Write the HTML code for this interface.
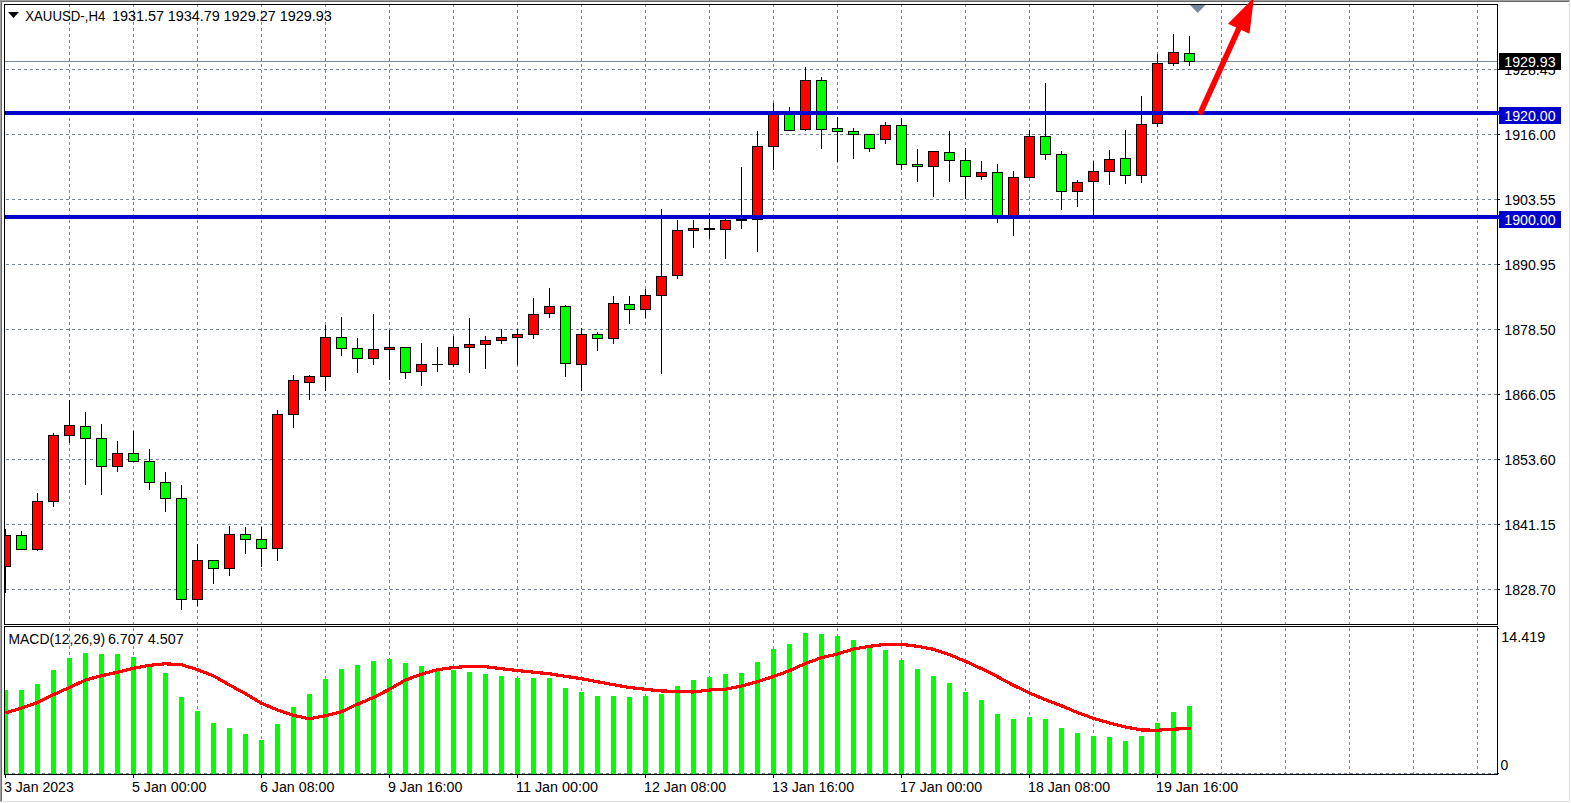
<!DOCTYPE html>
<html><head><meta charset="utf-8"><title>XAUUSD H4</title>
<style>html,body{margin:0;padding:0;background:#fff;overflow:hidden}svg{display:block}text{font-family:"Liberation Sans",sans-serif;font-size:14px;fill:#000}</style></head><body>
<svg width="1571" height="803" viewBox="0 0 1571 803">
<rect x="0" y="0" width="1571" height="803" fill="#fff"/>
<g shape-rendering="crispEdges">
<rect x="0" y="0" width="1570" height="1" fill="#a0a0a0"/>
<rect x="0" y="0" width="1" height="802" fill="#a0a0a0"/>
<rect x="1" y="1" width="1568" height="1" fill="#696969"/>
<rect x="1" y="1" width="1" height="800" fill="#696969"/>
<rect x="1569" y="1" width="1" height="801" fill="#e3e3e3"/>
<rect x="1" y="801" width="1569" height="1" fill="#e3e3e3"/>
<clipPath id="cm"><rect x="5" y="5" width="1492" height="619"/></clipPath>
<clipPath id="cd"><rect x="5" y="627" width="1492" height="147"/></clipPath>
<g stroke="#778899" stroke-width="1" stroke-dasharray="3 3" fill="none">
<g clip-path="url(#cm)">
<line x1="69.5" y1="4" x2="69.5" y2="630"/>
<line x1="133.5" y1="4" x2="133.5" y2="630"/>
<line x1="197.5" y1="4" x2="197.5" y2="630"/>
<line x1="261.5" y1="4" x2="261.5" y2="630"/>
<line x1="325.5" y1="4" x2="325.5" y2="630"/>
<line x1="389.5" y1="4" x2="389.5" y2="630"/>
<line x1="453.5" y1="4" x2="453.5" y2="630"/>
<line x1="517.5" y1="4" x2="517.5" y2="630"/>
<line x1="581.5" y1="4" x2="581.5" y2="630"/>
<line x1="645.5" y1="4" x2="645.5" y2="630"/>
<line x1="709.5" y1="4" x2="709.5" y2="630"/>
<line x1="773.5" y1="4" x2="773.5" y2="630"/>
<line x1="837.5" y1="4" x2="837.5" y2="630"/>
<line x1="901.5" y1="4" x2="901.5" y2="630"/>
<line x1="965.5" y1="4" x2="965.5" y2="630"/>
<line x1="1029.5" y1="4" x2="1029.5" y2="630"/>
<line x1="1093.5" y1="4" x2="1093.5" y2="630"/>
<line x1="1157.5" y1="4" x2="1157.5" y2="630"/>
<line x1="1221.5" y1="4" x2="1221.5" y2="630"/>
<line x1="1285.5" y1="4" x2="1285.5" y2="630"/>
<line x1="1349.5" y1="4" x2="1349.5" y2="630"/>
<line x1="1413.5" y1="4" x2="1413.5" y2="630"/>
<line x1="1477.5" y1="4" x2="1477.5" y2="630"/>
<line x1="0" y1="69.5" x2="1500" y2="69.5"/>
<line x1="0" y1="134.5" x2="1500" y2="134.5"/>
<line x1="0" y1="199.5" x2="1500" y2="199.5"/>
<line x1="0" y1="264.5" x2="1500" y2="264.5"/>
<line x1="0" y1="329.5" x2="1500" y2="329.5"/>
<line x1="0" y1="394.5" x2="1500" y2="394.5"/>
<line x1="0" y1="459.5" x2="1500" y2="459.5"/>
<line x1="0" y1="524.5" x2="1500" y2="524.5"/>
<line x1="0" y1="589.5" x2="1500" y2="589.5"/>
</g><g clip-path="url(#cd)">
<line x1="69.5" y1="622" x2="69.5" y2="780"/>
<line x1="133.5" y1="622" x2="133.5" y2="780"/>
<line x1="197.5" y1="622" x2="197.5" y2="780"/>
<line x1="261.5" y1="622" x2="261.5" y2="780"/>
<line x1="325.5" y1="622" x2="325.5" y2="780"/>
<line x1="389.5" y1="622" x2="389.5" y2="780"/>
<line x1="453.5" y1="622" x2="453.5" y2="780"/>
<line x1="517.5" y1="622" x2="517.5" y2="780"/>
<line x1="581.5" y1="622" x2="581.5" y2="780"/>
<line x1="645.5" y1="622" x2="645.5" y2="780"/>
<line x1="709.5" y1="622" x2="709.5" y2="780"/>
<line x1="773.5" y1="622" x2="773.5" y2="780"/>
<line x1="837.5" y1="622" x2="837.5" y2="780"/>
<line x1="901.5" y1="622" x2="901.5" y2="780"/>
<line x1="965.5" y1="622" x2="965.5" y2="780"/>
<line x1="1029.5" y1="622" x2="1029.5" y2="780"/>
<line x1="1093.5" y1="622" x2="1093.5" y2="780"/>
<line x1="1157.5" y1="622" x2="1157.5" y2="780"/>
<line x1="1221.5" y1="622" x2="1221.5" y2="780"/>
<line x1="1285.5" y1="622" x2="1285.5" y2="780"/>
<line x1="1349.5" y1="622" x2="1349.5" y2="780"/>
<line x1="1413.5" y1="622" x2="1413.5" y2="780"/>
<line x1="1477.5" y1="622" x2="1477.5" y2="780"/>
<line x1="0" y1="773.5" x2="1500" y2="773.5"/>
</g></g>
<rect x="5" y="61" width="1492" height="1" fill="#778899"/>
<g clip-path="url(#cm)">
<rect x="5" y="529" width="1" height="64" fill="#000"/>
<rect x="0" y="535" width="11" height="32" fill="#000"/>
<rect x="1" y="536" width="9" height="30" fill="#ff0000"/>
<rect x="21" y="531" width="1" height="19" fill="#000"/>
<rect x="16" y="535" width="11" height="15" fill="#000"/>
<rect x="17" y="536" width="9" height="13" fill="#00ff00"/>
<rect x="37" y="493" width="1" height="58" fill="#000"/>
<rect x="32" y="501" width="11" height="49" fill="#000"/>
<rect x="33" y="502" width="9" height="47" fill="#ff0000"/>
<rect x="53" y="433" width="1" height="74" fill="#000"/>
<rect x="48" y="435" width="11" height="67" fill="#000"/>
<rect x="49" y="436" width="9" height="65" fill="#ff0000"/>
<rect x="69" y="400" width="1" height="43" fill="#000"/>
<rect x="64" y="425" width="11" height="11" fill="#000"/>
<rect x="65" y="426" width="9" height="9" fill="#ff0000"/>
<rect x="85" y="412" width="1" height="73" fill="#000"/>
<rect x="80" y="426" width="11" height="13" fill="#000"/>
<rect x="81" y="427" width="9" height="11" fill="#00ff00"/>
<rect x="101" y="424" width="1" height="71" fill="#000"/>
<rect x="96" y="438" width="11" height="29" fill="#000"/>
<rect x="97" y="439" width="9" height="27" fill="#00ff00"/>
<rect x="117" y="441" width="1" height="31" fill="#000"/>
<rect x="112" y="453" width="11" height="14" fill="#000"/>
<rect x="113" y="454" width="9" height="12" fill="#ff0000"/>
<rect x="133" y="431" width="1" height="31" fill="#000"/>
<rect x="128" y="453" width="11" height="9" fill="#000"/>
<rect x="129" y="454" width="9" height="7" fill="#00ff00"/>
<rect x="149" y="449" width="1" height="41" fill="#000"/>
<rect x="144" y="461" width="11" height="22" fill="#000"/>
<rect x="145" y="462" width="9" height="20" fill="#00ff00"/>
<rect x="165" y="472" width="1" height="40" fill="#000"/>
<rect x="160" y="482" width="11" height="17" fill="#000"/>
<rect x="161" y="483" width="9" height="15" fill="#00ff00"/>
<rect x="181" y="485" width="1" height="125" fill="#000"/>
<rect x="176" y="498" width="11" height="102" fill="#000"/>
<rect x="177" y="499" width="9" height="100" fill="#00ff00"/>
<rect x="197" y="544" width="1" height="62" fill="#000"/>
<rect x="192" y="560" width="11" height="40" fill="#000"/>
<rect x="193" y="561" width="9" height="38" fill="#ff0000"/>
<rect x="213" y="560" width="1" height="24" fill="#000"/>
<rect x="208" y="560" width="11" height="9" fill="#000"/>
<rect x="209" y="561" width="9" height="7" fill="#00ff00"/>
<rect x="229" y="526" width="1" height="50" fill="#000"/>
<rect x="224" y="534" width="11" height="35" fill="#000"/>
<rect x="225" y="535" width="9" height="33" fill="#ff0000"/>
<rect x="245" y="527" width="1" height="27" fill="#000"/>
<rect x="240" y="534" width="11" height="6" fill="#000"/>
<rect x="241" y="535" width="9" height="4" fill="#00ff00"/>
<rect x="261" y="527" width="1" height="40" fill="#000"/>
<rect x="256" y="539" width="11" height="10" fill="#000"/>
<rect x="257" y="540" width="9" height="8" fill="#00ff00"/>
<rect x="277" y="410" width="1" height="151" fill="#000"/>
<rect x="272" y="414" width="11" height="135" fill="#000"/>
<rect x="273" y="415" width="9" height="133" fill="#ff0000"/>
<rect x="293" y="375" width="1" height="53" fill="#000"/>
<rect x="288" y="380" width="11" height="35" fill="#000"/>
<rect x="289" y="381" width="9" height="33" fill="#ff0000"/>
<rect x="309" y="375" width="1" height="25" fill="#000"/>
<rect x="304" y="376" width="11" height="7" fill="#000"/>
<rect x="305" y="377" width="9" height="5" fill="#ff0000"/>
<rect x="325" y="325" width="1" height="66" fill="#000"/>
<rect x="320" y="337" width="11" height="40" fill="#000"/>
<rect x="321" y="338" width="9" height="38" fill="#ff0000"/>
<rect x="341" y="317" width="1" height="39" fill="#000"/>
<rect x="336" y="337" width="11" height="12" fill="#000"/>
<rect x="337" y="338" width="9" height="10" fill="#00ff00"/>
<rect x="357" y="338" width="1" height="35" fill="#000"/>
<rect x="352" y="348" width="11" height="11" fill="#000"/>
<rect x="353" y="349" width="9" height="9" fill="#00ff00"/>
<rect x="373" y="314" width="1" height="51" fill="#000"/>
<rect x="368" y="349" width="11" height="10" fill="#000"/>
<rect x="369" y="350" width="9" height="8" fill="#ff0000"/>
<rect x="389" y="330" width="1" height="50" fill="#000"/>
<rect x="384" y="347" width="11" height="3" fill="#000"/>
<rect x="385" y="348" width="9" height="1" fill="#ff0000"/>
<rect x="405" y="347" width="1" height="32" fill="#000"/>
<rect x="400" y="347" width="11" height="26" fill="#000"/>
<rect x="401" y="348" width="9" height="24" fill="#00ff00"/>
<rect x="421" y="343" width="1" height="43" fill="#000"/>
<rect x="416" y="364" width="11" height="8" fill="#000"/>
<rect x="417" y="365" width="9" height="6" fill="#ff0000"/>
<rect x="437" y="347" width="1" height="25" fill="#000"/>
<rect x="432" y="364" width="11" height="1" fill="#000"/>
<rect x="453" y="336" width="1" height="31" fill="#000"/>
<rect x="448" y="347" width="11" height="18" fill="#000"/>
<rect x="449" y="348" width="9" height="16" fill="#ff0000"/>
<rect x="469" y="318" width="1" height="55" fill="#000"/>
<rect x="464" y="344" width="11" height="4" fill="#000"/>
<rect x="465" y="345" width="9" height="2" fill="#ff0000"/>
<rect x="485" y="336" width="1" height="33" fill="#000"/>
<rect x="480" y="340" width="11" height="5" fill="#000"/>
<rect x="481" y="341" width="9" height="3" fill="#ff0000"/>
<rect x="501" y="329" width="1" height="15" fill="#000"/>
<rect x="496" y="337" width="11" height="4" fill="#000"/>
<rect x="497" y="338" width="9" height="2" fill="#ff0000"/>
<rect x="517" y="329" width="1" height="36" fill="#000"/>
<rect x="512" y="334" width="11" height="4" fill="#000"/>
<rect x="513" y="335" width="9" height="2" fill="#ff0000"/>
<rect x="533" y="298" width="1" height="41" fill="#000"/>
<rect x="528" y="314" width="11" height="21" fill="#000"/>
<rect x="529" y="315" width="9" height="19" fill="#ff0000"/>
<rect x="549" y="288" width="1" height="30" fill="#000"/>
<rect x="544" y="306" width="11" height="8" fill="#000"/>
<rect x="545" y="307" width="9" height="6" fill="#ff0000"/>
<rect x="565" y="305" width="1" height="72" fill="#000"/>
<rect x="560" y="306" width="11" height="58" fill="#000"/>
<rect x="561" y="307" width="9" height="56" fill="#00ff00"/>
<rect x="581" y="328" width="1" height="63" fill="#000"/>
<rect x="576" y="334" width="11" height="31" fill="#000"/>
<rect x="577" y="335" width="9" height="29" fill="#ff0000"/>
<rect x="597" y="332" width="1" height="19" fill="#000"/>
<rect x="592" y="334" width="11" height="5" fill="#000"/>
<rect x="593" y="335" width="9" height="3" fill="#00ff00"/>
<rect x="613" y="296" width="1" height="48" fill="#000"/>
<rect x="608" y="303" width="11" height="36" fill="#000"/>
<rect x="609" y="304" width="9" height="34" fill="#ff0000"/>
<rect x="629" y="296" width="1" height="28" fill="#000"/>
<rect x="624" y="304" width="11" height="6" fill="#000"/>
<rect x="625" y="305" width="9" height="4" fill="#00ff00"/>
<rect x="645" y="289" width="1" height="29" fill="#000"/>
<rect x="640" y="295" width="11" height="15" fill="#000"/>
<rect x="641" y="296" width="9" height="13" fill="#ff0000"/>
<rect x="661" y="209" width="1" height="165" fill="#000"/>
<rect x="656" y="276" width="11" height="20" fill="#000"/>
<rect x="657" y="277" width="9" height="18" fill="#ff0000"/>
<rect x="677" y="220" width="1" height="59" fill="#000"/>
<rect x="672" y="230" width="11" height="46" fill="#000"/>
<rect x="673" y="231" width="9" height="44" fill="#ff0000"/>
<rect x="693" y="220" width="1" height="28" fill="#000"/>
<rect x="688" y="228" width="11" height="3" fill="#000"/>
<rect x="689" y="229" width="9" height="1" fill="#ff0000"/>
<rect x="709" y="213" width="1" height="26" fill="#000"/>
<rect x="704" y="228" width="11" height="2" fill="#000"/>
<rect x="725" y="215" width="1" height="44" fill="#000"/>
<rect x="720" y="220" width="11" height="10" fill="#000"/>
<rect x="721" y="221" width="9" height="8" fill="#ff0000"/>
<rect x="741" y="167" width="1" height="62" fill="#000"/>
<rect x="736" y="219" width="11" height="2" fill="#000"/>
<rect x="757" y="131" width="1" height="121" fill="#000"/>
<rect x="752" y="146" width="11" height="74" fill="#000"/>
<rect x="753" y="147" width="9" height="72" fill="#ff0000"/>
<rect x="773" y="103" width="1" height="67" fill="#000"/>
<rect x="768" y="112" width="11" height="35" fill="#000"/>
<rect x="769" y="113" width="9" height="33" fill="#ff0000"/>
<rect x="789" y="107" width="1" height="24" fill="#000"/>
<rect x="784" y="112" width="11" height="19" fill="#000"/>
<rect x="785" y="113" width="9" height="17" fill="#00ff00"/>
<rect x="805" y="67" width="1" height="64" fill="#000"/>
<rect x="800" y="80" width="11" height="50" fill="#000"/>
<rect x="801" y="81" width="9" height="48" fill="#ff0000"/>
<rect x="821" y="77" width="1" height="72" fill="#000"/>
<rect x="816" y="80" width="11" height="50" fill="#000"/>
<rect x="817" y="81" width="9" height="48" fill="#00ff00"/>
<rect x="837" y="117" width="1" height="45" fill="#000"/>
<rect x="832" y="128" width="11" height="4" fill="#000"/>
<rect x="833" y="129" width="9" height="2" fill="#00ff00"/>
<rect x="853" y="128" width="1" height="31" fill="#000"/>
<rect x="848" y="131" width="11" height="4" fill="#000"/>
<rect x="849" y="132" width="9" height="2" fill="#00ff00"/>
<rect x="869" y="134" width="1" height="18" fill="#000"/>
<rect x="864" y="134" width="11" height="15" fill="#000"/>
<rect x="865" y="135" width="9" height="13" fill="#00ff00"/>
<rect x="885" y="122" width="1" height="22" fill="#000"/>
<rect x="880" y="125" width="11" height="15" fill="#000"/>
<rect x="881" y="126" width="9" height="13" fill="#ff0000"/>
<rect x="901" y="118" width="1" height="52" fill="#000"/>
<rect x="896" y="125" width="11" height="40" fill="#000"/>
<rect x="897" y="126" width="9" height="38" fill="#00ff00"/>
<rect x="917" y="149" width="1" height="33" fill="#000"/>
<rect x="912" y="164" width="11" height="3" fill="#000"/>
<rect x="913" y="165" width="9" height="1" fill="#00ff00"/>
<rect x="933" y="151" width="1" height="46" fill="#000"/>
<rect x="928" y="151" width="11" height="16" fill="#000"/>
<rect x="929" y="152" width="9" height="14" fill="#ff0000"/>
<rect x="949" y="131" width="1" height="51" fill="#000"/>
<rect x="944" y="152" width="11" height="9" fill="#000"/>
<rect x="945" y="153" width="9" height="7" fill="#00ff00"/>
<rect x="965" y="148" width="1" height="51" fill="#000"/>
<rect x="960" y="160" width="11" height="17" fill="#000"/>
<rect x="961" y="161" width="9" height="15" fill="#00ff00"/>
<rect x="981" y="161" width="1" height="19" fill="#000"/>
<rect x="976" y="172" width="11" height="5" fill="#000"/>
<rect x="977" y="173" width="9" height="3" fill="#ff0000"/>
<rect x="997" y="164" width="1" height="59" fill="#000"/>
<rect x="992" y="172" width="11" height="45" fill="#000"/>
<rect x="993" y="173" width="9" height="43" fill="#00ff00"/>
<rect x="1013" y="171" width="1" height="65" fill="#000"/>
<rect x="1008" y="177" width="11" height="40" fill="#000"/>
<rect x="1009" y="178" width="9" height="38" fill="#ff0000"/>
<rect x="1029" y="130" width="1" height="48" fill="#000"/>
<rect x="1024" y="136" width="11" height="42" fill="#000"/>
<rect x="1025" y="137" width="9" height="40" fill="#ff0000"/>
<rect x="1045" y="83" width="1" height="77" fill="#000"/>
<rect x="1040" y="136" width="11" height="19" fill="#000"/>
<rect x="1041" y="137" width="9" height="17" fill="#00ff00"/>
<rect x="1061" y="151" width="1" height="59" fill="#000"/>
<rect x="1056" y="154" width="11" height="38" fill="#000"/>
<rect x="1057" y="155" width="9" height="36" fill="#00ff00"/>
<rect x="1077" y="180" width="1" height="27" fill="#000"/>
<rect x="1072" y="182" width="11" height="10" fill="#000"/>
<rect x="1073" y="183" width="9" height="8" fill="#ff0000"/>
<rect x="1093" y="161" width="1" height="54" fill="#000"/>
<rect x="1088" y="171" width="11" height="11" fill="#000"/>
<rect x="1089" y="172" width="9" height="9" fill="#ff0000"/>
<rect x="1109" y="150" width="1" height="35" fill="#000"/>
<rect x="1104" y="159" width="11" height="13" fill="#000"/>
<rect x="1105" y="160" width="9" height="11" fill="#ff0000"/>
<rect x="1125" y="130" width="1" height="54" fill="#000"/>
<rect x="1120" y="158" width="11" height="18" fill="#000"/>
<rect x="1121" y="159" width="9" height="16" fill="#00ff00"/>
<rect x="1141" y="96" width="1" height="87" fill="#000"/>
<rect x="1136" y="124" width="11" height="52" fill="#000"/>
<rect x="1137" y="125" width="9" height="50" fill="#ff0000"/>
<rect x="1157" y="54" width="1" height="73" fill="#000"/>
<rect x="1152" y="63" width="11" height="61" fill="#000"/>
<rect x="1153" y="64" width="9" height="59" fill="#ff0000"/>
<rect x="1173" y="34" width="1" height="32" fill="#000"/>
<rect x="1168" y="52" width="11" height="12" fill="#000"/>
<rect x="1169" y="53" width="9" height="10" fill="#ff0000"/>
<rect x="1189" y="36" width="1" height="30" fill="#000"/>
<rect x="1184" y="53" width="11" height="9" fill="#000"/>
<rect x="1185" y="54" width="9" height="7" fill="#00ff00"/>
</g>
<g clip-path="url(#cd)">
<rect x="3" y="690" width="5" height="84" fill="#00ff00"/>
<rect x="19" y="690" width="5" height="84" fill="#00ff00"/>
<rect x="35" y="684" width="5" height="90" fill="#00ff00"/>
<rect x="51" y="670" width="5" height="104" fill="#00ff00"/>
<rect x="67" y="658" width="5" height="116" fill="#00ff00"/>
<rect x="83" y="653" width="5" height="121" fill="#00ff00"/>
<rect x="99" y="654" width="5" height="120" fill="#00ff00"/>
<rect x="115" y="654" width="5" height="120" fill="#00ff00"/>
<rect x="131" y="657" width="5" height="117" fill="#00ff00"/>
<rect x="147" y="665" width="5" height="109" fill="#00ff00"/>
<rect x="163" y="673" width="5" height="101" fill="#00ff00"/>
<rect x="179" y="697" width="5" height="77" fill="#00ff00"/>
<rect x="195" y="711" width="5" height="63" fill="#00ff00"/>
<rect x="211" y="723" width="5" height="51" fill="#00ff00"/>
<rect x="227" y="728" width="5" height="46" fill="#00ff00"/>
<rect x="243" y="734" width="5" height="40" fill="#00ff00"/>
<rect x="259" y="740" width="5" height="34" fill="#00ff00"/>
<rect x="275" y="724" width="5" height="50" fill="#00ff00"/>
<rect x="291" y="707" width="5" height="67" fill="#00ff00"/>
<rect x="307" y="694" width="5" height="80" fill="#00ff00"/>
<rect x="323" y="679" width="5" height="95" fill="#00ff00"/>
<rect x="339" y="669" width="5" height="105" fill="#00ff00"/>
<rect x="355" y="665" width="5" height="109" fill="#00ff00"/>
<rect x="371" y="661" width="5" height="113" fill="#00ff00"/>
<rect x="387" y="659" width="5" height="115" fill="#00ff00"/>
<rect x="403" y="663" width="5" height="111" fill="#00ff00"/>
<rect x="419" y="666" width="5" height="108" fill="#00ff00"/>
<rect x="435" y="669" width="5" height="105" fill="#00ff00"/>
<rect x="451" y="670" width="5" height="104" fill="#00ff00"/>
<rect x="467" y="672" width="5" height="102" fill="#00ff00"/>
<rect x="483" y="674" width="5" height="100" fill="#00ff00"/>
<rect x="499" y="676" width="5" height="98" fill="#00ff00"/>
<rect x="515" y="678" width="5" height="96" fill="#00ff00"/>
<rect x="531" y="678" width="5" height="96" fill="#00ff00"/>
<rect x="547" y="678" width="5" height="96" fill="#00ff00"/>
<rect x="563" y="688" width="5" height="86" fill="#00ff00"/>
<rect x="579" y="692" width="5" height="82" fill="#00ff00"/>
<rect x="595" y="696" width="5" height="78" fill="#00ff00"/>
<rect x="611" y="696" width="5" height="78" fill="#00ff00"/>
<rect x="627" y="697" width="5" height="77" fill="#00ff00"/>
<rect x="643" y="696" width="5" height="78" fill="#00ff00"/>
<rect x="659" y="694" width="5" height="80" fill="#00ff00"/>
<rect x="675" y="686" width="5" height="88" fill="#00ff00"/>
<rect x="691" y="680" width="5" height="94" fill="#00ff00"/>
<rect x="707" y="677" width="5" height="97" fill="#00ff00"/>
<rect x="723" y="674" width="5" height="100" fill="#00ff00"/>
<rect x="739" y="673" width="5" height="101" fill="#00ff00"/>
<rect x="755" y="662" width="5" height="112" fill="#00ff00"/>
<rect x="771" y="649" width="5" height="125" fill="#00ff00"/>
<rect x="787" y="644" width="5" height="130" fill="#00ff00"/>
<rect x="803" y="633" width="5" height="141" fill="#00ff00"/>
<rect x="819" y="634" width="5" height="140" fill="#00ff00"/>
<rect x="835" y="636" width="5" height="138" fill="#00ff00"/>
<rect x="851" y="640" width="5" height="134" fill="#00ff00"/>
<rect x="867" y="646" width="5" height="128" fill="#00ff00"/>
<rect x="883" y="650" width="5" height="124" fill="#00ff00"/>
<rect x="899" y="660" width="5" height="114" fill="#00ff00"/>
<rect x="915" y="669" width="5" height="105" fill="#00ff00"/>
<rect x="931" y="676" width="5" height="98" fill="#00ff00"/>
<rect x="947" y="683" width="5" height="91" fill="#00ff00"/>
<rect x="963" y="692" width="5" height="82" fill="#00ff00"/>
<rect x="979" y="700" width="5" height="74" fill="#00ff00"/>
<rect x="995" y="714" width="5" height="60" fill="#00ff00"/>
<rect x="1011" y="719" width="5" height="55" fill="#00ff00"/>
<rect x="1027" y="717" width="5" height="57" fill="#00ff00"/>
<rect x="1043" y="719" width="5" height="55" fill="#00ff00"/>
<rect x="1059" y="728" width="5" height="46" fill="#00ff00"/>
<rect x="1075" y="733" width="5" height="41" fill="#00ff00"/>
<rect x="1091" y="736" width="5" height="38" fill="#00ff00"/>
<rect x="1107" y="737" width="5" height="37" fill="#00ff00"/>
<rect x="1123" y="741" width="5" height="33" fill="#00ff00"/>
<rect x="1139" y="736" width="5" height="38" fill="#00ff00"/>
<rect x="1155" y="723" width="5" height="51" fill="#00ff00"/>
<rect x="1171" y="712" width="5" height="62" fill="#00ff00"/>
<rect x="1187" y="706" width="5" height="68" fill="#00ff00"/>
</g>
</g>
<polyline points="5.5,713 21.5,708 37.5,702.5 53.5,694.7 69.5,687.5 85.5,680 101.5,675.8 117.5,672.2 133.5,668.3 149.5,665.3 165.5,663.8 181.5,664.7 197.5,669.7 213.5,675.8 229.5,685 245.5,693.7 261.5,703.3 277.5,710 293.5,715.3 309.5,718.8 325.5,715.7 341.5,711.7 357.5,704.2 373.5,697.5 389.5,689.2 405.5,680 421.5,674.2 437.5,669.7 453.5,667.5 469.5,666.3 485.5,666.7 501.5,668.7 517.5,670.5 533.5,672.2 549.5,673.8 565.5,676.3 581.5,678.7 597.5,681.7 613.5,684.7 629.5,687.5 645.5,689.3 661.5,691 677.5,691.3 693.5,692 709.5,690 725.5,689.2 741.5,686 757.5,681.8 773.5,676.5 789.5,670.7 805.5,663.5 821.5,657.7 837.5,654 853.5,649 869.5,646.3 885.5,644.3 901.5,644.3 917.5,646.3 933.5,649.3 949.5,654.7 965.5,661.3 981.5,668.7 997.5,676.7 1013.5,685.3 1029.5,693 1045.5,699.7 1061.5,705.8 1077.5,712.5 1093.5,718.3 1109.5,723 1125.5,727 1141.5,730 1157.5,730.2 1173.5,729.2 1189.5,728.3 1191,728.3" fill="none" stroke="#ff0000" stroke-width="3.2" stroke-linejoin="round" stroke-linecap="butt" shape-rendering="crispEdges" clip-path="url(#cd)"/>
<g shape-rendering="crispEdges">
<rect x="4" y="4" width="1494" height="1" fill="#000"/>
<rect x="4" y="624" width="1494" height="1" fill="#000"/>
<rect x="4" y="626" width="1494" height="1" fill="#000"/>
<rect x="4" y="774" width="1494" height="1" fill="#000"/>
<rect x="4" y="4" width="1" height="621" fill="#000"/>
<rect x="1497" y="4" width="1" height="621" fill="#000"/>
<rect x="4" y="626" width="1" height="149" fill="#000"/>
<rect x="1497" y="626" width="1" height="149" fill="#000"/>
<rect x="1498" y="69" width="2" height="1" fill="#000"/>
<rect x="1498" y="134" width="2" height="1" fill="#000"/>
<rect x="1498" y="199" width="2" height="1" fill="#000"/>
<rect x="1498" y="264" width="2" height="1" fill="#000"/>
<rect x="1498" y="329" width="2" height="1" fill="#000"/>
<rect x="1498" y="394" width="2" height="1" fill="#000"/>
<rect x="1498" y="459" width="2" height="1" fill="#000"/>
<rect x="1498" y="524" width="2" height="1" fill="#000"/>
<rect x="1498" y="589" width="2" height="1" fill="#000"/>
<rect x="1498" y="628" width="1" height="1" fill="#000"/>
<rect x="1498" y="773" width="1" height="1" fill="#000"/>
<rect x="5" y="775" width="1" height="3" fill="#000"/>
<rect x="133" y="775" width="1" height="3" fill="#000"/>
<rect x="261" y="775" width="1" height="3" fill="#000"/>
<rect x="389" y="775" width="1" height="3" fill="#000"/>
<rect x="517" y="775" width="1" height="3" fill="#000"/>
<rect x="645" y="775" width="1" height="3" fill="#000"/>
<rect x="773" y="775" width="1" height="3" fill="#000"/>
<rect x="901" y="775" width="1" height="3" fill="#000"/>
<rect x="1029" y="775" width="1" height="3" fill="#000"/>
<rect x="1157" y="775" width="1" height="3" fill="#000"/>
<rect x="5" y="111" width="1494" height="4" fill="#0000cd"/>
<rect x="5" y="215" width="1494" height="4" fill="#0000cd"/>
<rect x="1499" y="107" width="62" height="17" fill="#0000cd"/>
<rect x="1499" y="211" width="62" height="17" fill="#0000cd"/>
<rect x="1499" y="53" width="62" height="17" fill="#000"/>
</g>
<polygon points="1190,5 1205.5,5 1197.7,13" fill="#778899"/>
<polygon points="8,12 19,12 13.5,18" fill="#000"/>
<text y="21"><tspan x="25.2" textLength="80.2" lengthAdjust="spacingAndGlyphs">XAUUSD-,H4</tspan><tspan x="111.9" textLength="52.1" lengthAdjust="spacingAndGlyphs">1931.57</tspan><tspan x="167.7" textLength="52.1" lengthAdjust="spacingAndGlyphs">1934.79</tspan><tspan x="223.6" textLength="52.1" lengthAdjust="spacingAndGlyphs">1929.27</tspan><tspan x="279.7" textLength="52.1" lengthAdjust="spacingAndGlyphs">1929.93</tspan></text>
<text y="644"><tspan x="8.5" textLength="96.6" lengthAdjust="spacingAndGlyphs">MACD(12,26,9)</tspan><tspan x="107.9" textLength="35.9" lengthAdjust="spacingAndGlyphs">6.707</tspan><tspan x="147.8" textLength="35.9" lengthAdjust="spacingAndGlyphs">4.507</tspan></text>
<text x="1504.3" y="75" textLength="51.3" lengthAdjust="spacingAndGlyphs">1928.45</text>
<text x="1504.3" y="140" textLength="51.3" lengthAdjust="spacingAndGlyphs">1916.00</text>
<text x="1504.3" y="205" textLength="51.3" lengthAdjust="spacingAndGlyphs">1903.55</text>
<text x="1504.3" y="270" textLength="51.3" lengthAdjust="spacingAndGlyphs">1890.95</text>
<text x="1504.3" y="335" textLength="51.3" lengthAdjust="spacingAndGlyphs">1878.50</text>
<text x="1504.3" y="400" textLength="51.3" lengthAdjust="spacingAndGlyphs">1866.05</text>
<text x="1504.3" y="465" textLength="51.3" lengthAdjust="spacingAndGlyphs">1853.60</text>
<text x="1504.3" y="530" textLength="51.3" lengthAdjust="spacingAndGlyphs">1841.15</text>
<text x="1504.3" y="595" textLength="51.3" lengthAdjust="spacingAndGlyphs">1828.70</text>
<text x="1504.3" y="67" style="fill:#fff" textLength="51.3" lengthAdjust="spacingAndGlyphs">1929.93</text>
<text x="1504.3" y="121" style="fill:#fff" textLength="51.3" lengthAdjust="spacingAndGlyphs">1920.00</text>
<text x="1504.3" y="225" style="fill:#fff" textLength="51.3" lengthAdjust="spacingAndGlyphs">1900.00</text>
<text x="1501.3" y="642" textLength="43.8" lengthAdjust="spacingAndGlyphs">14.419</text>
<text x="1500.5" y="770">0</text>
<text x="4" y="792" textLength="69.8" lengthAdjust="spacingAndGlyphs">3 Jan 2023</text>
<text x="132" y="792" textLength="74.3" lengthAdjust="spacingAndGlyphs">5 Jan 00:00</text>
<text x="260" y="792" textLength="74.3" lengthAdjust="spacingAndGlyphs">6 Jan 08:00</text>
<text x="388" y="792" textLength="74.3" lengthAdjust="spacingAndGlyphs">9 Jan 16:00</text>
<text x="516" y="792" textLength="82.1" lengthAdjust="spacingAndGlyphs">11 Jan 00:00</text>
<text x="644" y="792" textLength="82.1" lengthAdjust="spacingAndGlyphs">12 Jan 08:00</text>
<text x="772" y="792" textLength="82.1" lengthAdjust="spacingAndGlyphs">13 Jan 16:00</text>
<text x="900" y="792" textLength="82.1" lengthAdjust="spacingAndGlyphs">17 Jan 00:00</text>
<text x="1028" y="792" textLength="82.1" lengthAdjust="spacingAndGlyphs">18 Jan 08:00</text>
<text x="1156" y="792" textLength="82.1" lengthAdjust="spacingAndGlyphs">19 Jan 16:00</text>
<line x1="1200.8" y1="112" x2="1240" y2="25.8" stroke="#ff0000" stroke-width="5.6" stroke-linecap="round"/>
<polygon points="1254,-2.5 1228,23.7 1249.5,33.7" fill="#ff0000"/>
</svg></body></html>
